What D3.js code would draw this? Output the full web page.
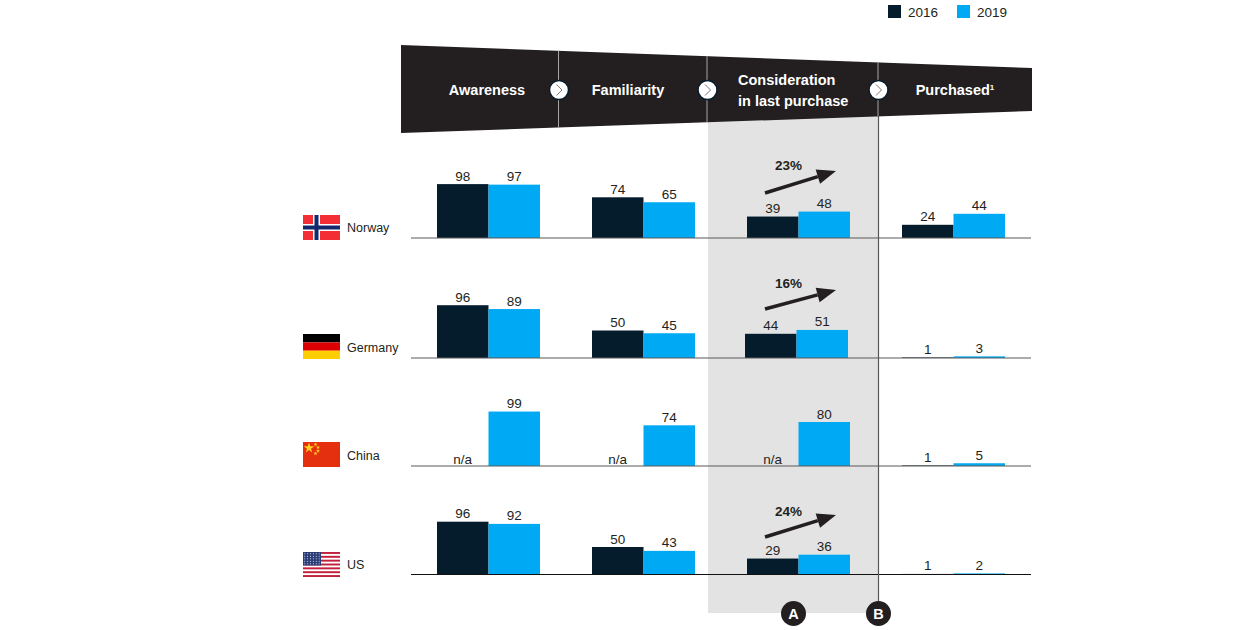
<!DOCTYPE html>
<html>
<head>
<meta charset="utf-8">
<script src="https://cdnjs.cloudflare.com/ajax/libs/d3/7.8.5/d3.min.js"></script>
<style>
html, body { margin: 0; padding: 0; background: #fff; }
svg { display: block; }
text { font-family: "Liberation Sans", Arial, sans-serif; fill: #231f20; }
</style>
</head>
<body>
<div id="chart"></div>
<script>
const years = ["2016", "2019"];
const stages = ["Awareness", "Familiarity", "Consideration", "Purchased"];
const countries = ["Norway", "Germany", "China", "US"];

// one array per country and year, in stage order. null = n/a
const norway2016 = [98, 74, 39, 24];
const norway2019 = [97, 65, 48, 44];
const germany2016 = [96, 50, 44, 1];
const germany2019 = [89, 45, 51, 3];
const china2016 = [null, null, null, 1];
const china2019 = [99, 74, 80, 5];
const us2016 = [96, 50, 29, 1];
const us2019 = [92, 43, 36, 2];

const growthLabels = ["23%", "16%", null, "24%"];

const width = 1260, height = 630;
const colors = { "2016": "#051c2c", "2019": "#00a9f4" };
const dark = "#231f20";

const svg = d3.select("#chart").append("svg")
    .attr("width", width)
    .attr("height", height)
    .attr("viewBox", [0, 0, width, height]);

const x = d3.scalePoint().domain(stages).range([488.5, 953.5]);
const xYear = d3.scaleBand().domain(years).range([-51.5, 51.5]);
const y = d3.scaleLinear().domain([0, 100]).range([0, 55]);
const rowBase = d3.scaleOrdinal().domain(countries).range([238, 358, 466, 574.5]);

// arrow start height above the baseline, how much it climbs, label gap over the tip
const arrowLift = [45, 49, 0, 37.5];
const arrowRise = [22, 19, 0, 22];
const arrowLabelGap = [1, 2, 0, -1];

// grey panel behind consideration column
svg.append("rect")
    .attr("x", 708).attr("y", 110)
    .attr("width", 170.5).attr("height", 503)
    .attr("fill", "#e3e3e3");

// header band
svg.append("polygon")
    .attr("points", "401,45 1032,68 1032,111 401,133")
    .attr("fill", dark);

function edgeY(px, a, b) {
    return a + (b - a) * (px - 401) / 631;
}
for (const px of [558.5, 707, 878]) {
    svg.append("line")
        .attr("x1", px).attr("x2", px)
        .attr("y1", edgeY(px, 45, 68)).attr("y2", edgeY(px, 133, 111))
        .attr("stroke", "#a7a5a6").attr("stroke-width", 1);
    svg.append("circle")
        .attr("cx", px + 0.5).attr("cy", 90).attr("r", 9.5)
        .attr("fill", "#fff").attr("stroke", "#051c2c").attr("stroke-width", 1.5);
    svg.append("path")
        .attr("d", `M${px - 2},84.5 L${px + 3.5},90 L${px - 2},95.5`)
        .attr("fill", "none").attr("stroke", "#77787b").attr("stroke-width", 1);
}

const header = svg.append("g")
    .attr("font-weight", "bold").attr("font-size", 14.5);
header.append("text").attr("x", 487).attr("y", 95).attr("text-anchor", "middle")
    .style("fill", "#fff").text("Awareness");
header.append("text").attr("x", 628).attr("y", 95).attr("text-anchor", "middle")
    .style("fill", "#fff").text("Familiarity");
header.append("text").attr("x", 738).attr("y", 85)
    .style("fill", "#fff").text("Consideration");
header.append("text").attr("x", 738).attr("y", 106)
    .style("fill", "#fff").text("in last purchase");
const purchased = header.append("text").attr("x", 955).attr("y", 95).attr("text-anchor", "middle")
    .style("fill", "#fff").text("Purchased");
purchased.append("tspan").attr("font-size", 8).attr("dy", -5).text("1");

// legend
const legendX = [888, 957];
years.forEach((yr, i) => {
    svg.append("rect")
        .attr("x", legendX[i]).attr("y", 5)
        .attr("width", 13).attr("height", 13)
        .attr("fill", colors[yr]);
    svg.append("text")
        .attr("x", legendX[i] + 20).attr("y", 17)
        .attr("font-size", 13.5).text(yr);
});

const rows = [
    [norway2016, norway2019],
    [germany2016, germany2019],
    [china2016, china2019],
    [us2016, us2019]
];

countries.forEach((country, r) => {
    const base = rowBase(country);
    const g = svg.append("g").attr("class", "row");

    years.forEach((yr, yi) => {
        const vals = rows[r][yi].map((v, i) => ({ stage: stages[i], v }));
        // germany's consideration bars sit 2px left in the source
        const nudge = d => (country === "Germany" && d.stage === "Consideration") ? -2 : 0;
        const bx = d => x(d.stage) + xYear(yr) + nudge(d);

        g.selectAll(null)
            .data(vals.filter(d => d.v !== null))
            .join("rect")
            .attr("x", bx)
            .attr("y", d => base - y(d.v))
            .attr("width", xYear.bandwidth())
            .attr("height", d => y(d.v))
            .attr("fill", colors[yr]);

        g.selectAll(null)
            .data(vals)
            .join("text")
            .attr("x", d => bx(d) + xYear.bandwidth() / 2)
            .attr("y", d => d.v === null ? base - 2.5 : base - y(d.v) - 3.5)
            .attr("text-anchor", "middle")
            .attr("font-size", 13.5)
            .text(d => d.v === null ? "n/a" : d.v);
    });

    g.append("line")
        .attr("x1", 411).attr("x2", 1031)
        .attr("y1", base).attr("y2", base)
        .attr("stroke", r === 3 ? "#111" : "#5b5b5b")
        .attr("stroke-width", 1.2);

    // growth arrow
    const label = growthLabels[r];
    if (label) {
        const ay = base - arrowLift[r];
        const rise = arrowRise[r];
        const ang = Math.atan2(-rise, 71);
        const tipX = 836, tipY = ay - rise;
        const back = 19, wide = 7.5;
        const bxp = tipX - back * Math.cos(ang), byp = tipY - back * Math.sin(ang);
        const nx = -Math.sin(ang), ny = Math.cos(ang);
        g.append("line")
            .attr("x1", 765).attr("y1", ay)
            .attr("x2", bxp).attr("y2", byp)
            .attr("stroke", dark).attr("stroke-width", 3.5);
        g.append("polygon")
            .attr("points", [
                [tipX, tipY],
                [bxp + nx * wide, byp + ny * wide],
                [bxp - nx * wide, byp - ny * wide]
            ].join(" "))
            .attr("fill", dark);
        g.append("text")
            .attr("x", 788.5)
            .attr("y", tipY - arrowLabelGap[r])
            .attr("text-anchor", "middle")
            .attr("font-size", 13.5).attr("font-weight", "bold")
            .text(label);
    }
});

// column B line and the A/B markers
svg.append("line")
    .attr("x1", 878.5).attr("x2", 878.5)
    .attr("y1", 116).attr("y2", 613)
    .attr("stroke", "#55565a").attr("stroke-width", 1.2);

[["A", 793.5], ["B", 878.5]].forEach(([name, cx]) => {
    svg.append("circle").attr("cx", cx).attr("cy", 613.5).attr("r", 12.5).attr("fill", dark);
    svg.append("text")
        .attr("x", cx).attr("y", 619)
        .attr("text-anchor", "middle")
        .attr("font-size", 14.5).attr("font-weight", "bold")
        .style("fill", "#fff").text(name);
});

// flags and country names
const flagX = 303, flagW = 37, flagH = 25;
const flagY = { Norway: 215, Germany: 334, China: 442, US: 552 };
const nameY = { Norway: 232, Germany: 352, China: 460, US: 569 };

countries.forEach(country => {
    svg.append("text")
        .attr("x", 347).attr("y", nameY[country])
        .attr("font-size", 12.5).text(country);
});

function bars(g, list) {
    for (const [bx, by, bw, bh, c] of list) {
        g.append("rect").attr("x", bx).attr("y", by).attr("width", bw).attr("height", bh).attr("fill", c);
    }
}

const no = svg.append("g").attr("transform", `translate(${flagX},${flagY.Norway})`);
bars(no, [
    [0, 0, flagW, flagH, "#f32f35"],
    [10, 0, 7, flagH, "#fff"],
    [0, 9, flagW, 7, "#fff"],
    [11.5, 0, 4, flagH, "#14296b"],
    [0, 10.5, flagW, 4, "#14296b"]
]);

const de = svg.append("g").attr("transform", `translate(${flagX},${flagY.Germany})`);
bars(de, [
    [0, 0, flagW, 8.4, "#000"],
    [0, 8.4, flagW, 8.3, "#dd0000"],
    [0, 16.7, flagW, 8.3, "#ffce00"]
]);

const cn = svg.append("g").attr("transform", `translate(${flagX},${flagY.China})`);
bars(cn, [[0, 0, flagW, flagH, "#e5300f"]]);
const star = d3.symbol().type(d3.symbolStar);
[[6, 6, 34], [12.5, 2.5, 5], [15, 5.5, 5], [15, 9, 5], [12.5, 11.5, 5]].forEach(([sx, sy, size]) => {
    cn.append("path")
        .attr("d", star.size(size)())
        .attr("transform", `translate(${sx},${sy})`)
        .attr("fill", "#ffd21f");
});

const us = svg.append("g").attr("transform", `translate(${flagX},${flagY.US})`);
bars(us, [[0, 0, flagW, flagH, "#fff"]]);
d3.range(0, 13, 2).forEach(i => {
    bars(us, [[0, i * flagH / 13, flagW, flagH / 13, "#c21f3c"]]);
});
bars(us, [[0, 0, 18, 13.5, "#2b3d78"]]);
d3.range(0, 5).forEach(row => {
    d3.range(0, 6).forEach(col => {
        us.append("circle")
            .attr("cx", 1.7 + col * 2.9)
            .attr("cy", 1.7 + row * 2.5)
            .attr("r", 0.55)
            .attr("fill", "#dfe3ef");
    });
});
</script>
</body>
</html>
